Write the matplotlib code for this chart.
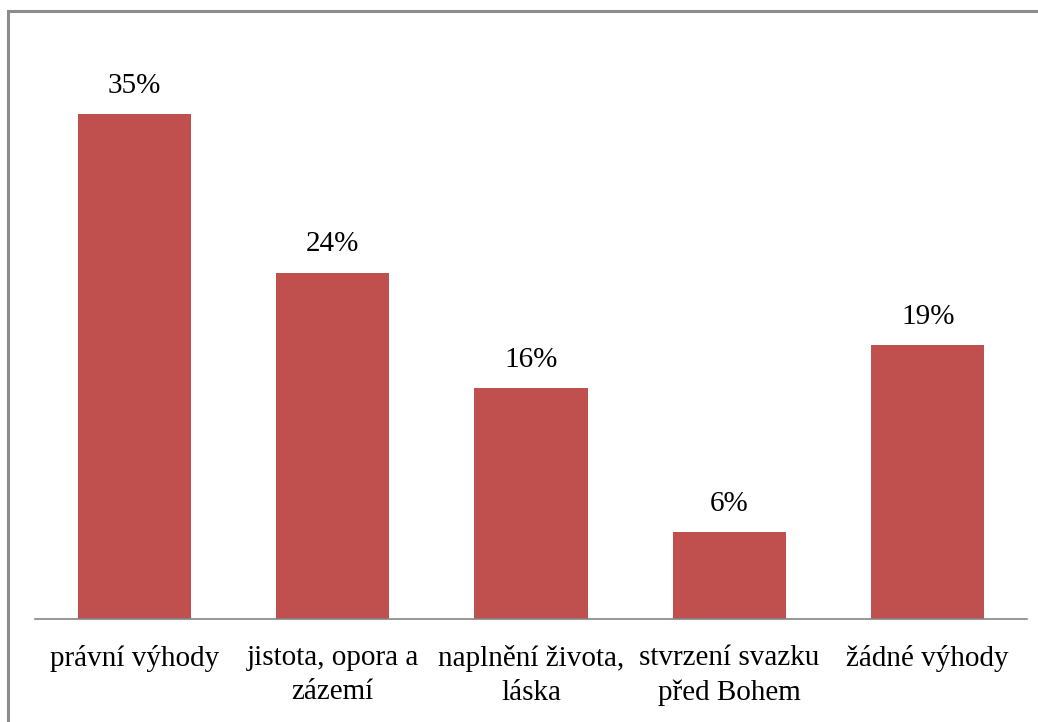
import matplotlib
matplotlib.use("Agg")
import matplotlib.pyplot as plt
from matplotlib.patches import Rectangle

categories = ["právní výhody", "jistota, opora a\nzázemí", "naplnění života,\nláska",
              "stvrzení svazku\npřed Bohem", "žádné výhody"]
values = [35, 24, 16, 6, 19]
value_labels = ["35%", "24%", "16%", "6%", "19%"]

plt.rcParams['font.family'] = ['Liberation Serif', 'DejaVu Serif']

fig = plt.figure(figsize=(10.38, 7.22), dpi=100)
ax = fig.add_axes([35/1038, 103/722, 992/1038, 0.7994])

bars = ax.bar(range(len(values)), values, width=0.57, color="#C0504D")
ax.bar_label(bars, labels=value_labels, padding=11, fontsize=21)

ax.set_xlim(-0.5, len(values) - 0.5)
ax.set_ylim(0, 40)
ax.set_xticks(range(len(values)))
ax.set_xticklabels(categories, fontsize=21, linespacing=1.4)
ax.tick_params(axis='x', length=0, pad=19)
ax.set_yticks([])
for s in ['top', 'right', 'left']:
    ax.spines[s].set_visible(False)
ax.spines['bottom'].set_color("#868686")
ax.spines['bottom'].set_linewidth(1.2)

# outer chart border (runs off the right and bottom edge)
fig.patches.append(Rectangle((8/1038, -0.1), 1.2, (722 - 11)/722 + 0.1,
                             transform=fig.transFigure, fill=False,
                             edgecolor="#8c8c8c", linewidth=2.2))

fig.savefig("out.png", dpi=100)
